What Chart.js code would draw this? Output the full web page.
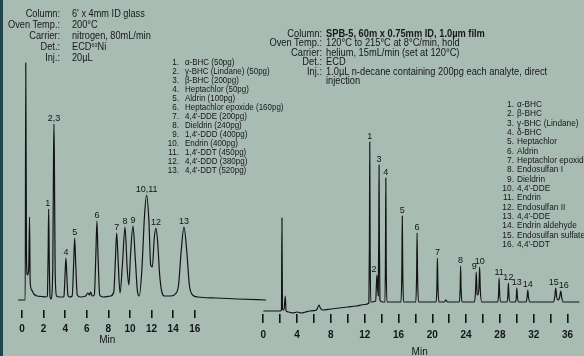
<!DOCTYPE html>
<html>
<head>
<meta charset="utf-8">
<script src="https://cdn.jsdelivr.net/npm/chart.js"></script>
<style>
  body { margin: 0; background: #a8bcb4; }
  #wrap { position: relative; width: 584px; height: 356px; overflow: hidden; background: #a8bcb4;
    font-family: "Liberation Sans Narrow", "Arial Narrow", "Liberation Sans", sans-serif; color: #171717; }
  #edge { position: absolute; left: 0; top: 0; width: 3px; height: 356px; background: #1f4650; }
  canvas { position: absolute; left: 0; top: 0; }
  .lab { position: absolute; text-align: right; white-space: nowrap; transform-origin: right top; }
  .val { position: absolute; white-space: nowrap; transform-origin: left top; }
  sup { font-size: 6px; vertical-align: 3px; line-height: 0; }
</style>
</head>
<body>
<div id="wrap">
  <div id="edge"></div>
  <canvas id="left" width="584" height="356"></canvas>
  <canvas id="right" width="584" height="356"></canvas>

  <div style="position:absolute;left:0;top:8px;font-size:10px;line-height:11px;">
    <div class="lab" style="left:0;width:60px;top:0;transform:scaleX(0.92)">Column:<br>Oven Temp.:<br>Carrier:<br>Det.:<br>Inj.:</div>
    <div class="val" style="left:72px;top:0;transform:scaleX(0.92)">6' x 4mm ID glass<br>200°C<br>nitrogen, 80mL/min<br>ECD<sup>63</sup>Ni<br>20µL</div>
  </div>

  <div style="position:absolute;left:0;top:57px;font-size:9.5px;line-height:9px;">
    <div class="lab" style="left:140px;width:39px;top:0;transform:scaleX(0.85)">1.<br>2.<br>3.<br>4.<br>5.<br>6.<br>7.<br>8.<br>9.<br>10.<br>11.<br>12.<br>13.</div>
    <div class="val" style="left:185px;top:0;transform:scaleX(0.84)">α-BHC (50pg)<br>γ-BHC (Lindane) (50pg)<br>β-BHC (200pg)<br>Heptachlor (50pg)<br>Aldrin (100pg)<br>Heptachlor epoxide (160pg)<br>4,4'-DDE (200pg)<br>Dieldrin (240pg)<br>1,4'-DDD (400pg)<br>Endrin (400pg)<br>1,4'-DDT (450pg)<br>4,4'-DDD (380pg)<br>4,4'-DDT (520pg)</div>
  </div>

  <div style="position:absolute;left:0;top:29px;font-size:10px;line-height:9.4px;">
    <div class="lab" style="left:250px;width:72px;top:0;transform:scaleX(0.93)">Column:<br>Oven Temp.:<br>Carrier:<br>Det.:<br>Inj.:</div>
    <div class="val" style="left:326px;top:0;transform:scaleX(0.93)"><b>SPB-5, 60m x 0.75mm ID, 1.0µm film</b><br>120°C to 215°C at 8°C/min, hold<br>helium, 15mL/min (set at 120°C)<br>ECD<br>1.0µL n-decane containing 200pg each analyte, direct<br>injection</div>
  </div>

  <div style="position:absolute;left:0;top:99px;font-size:9.5px;line-height:9.35px;">
    <div class="lab" style="left:480px;width:34px;top:0;transform:scaleX(0.88)">1.<br>2.<br>3.<br>4.<br>5.<br>6.<br>7.<br>8.<br>9.<br>10.<br>11.<br>12.<br>13.<br>14.<br>15.<br>16.</div>
    <div class="val" style="left:517px;top:0;transform:scaleX(0.87)">α-BHC<br>β-BHC<br>γ-BHC (Lindane)<br>δ-BHC<br>Heptachlor<br>Aldrin<br>Heptachlor epoxide<br>Endosulfan I<br>Dieldrin<br>4,4'-DDE<br>Endrin<br>Endosulfan II<br>4,4'-DDE<br>Endrin aldehyde<br>Endosulfan sulfate<br>4,4'-DDT</div>
  </div>
</div>

<script>
// packed column run (min, detector height)
const leftTime = [-0.37, 0.3, 0.35, 0.42, 0.5, 0.62, 0.7, 0.76, 0.9, 1.1, 1.4, 1.8, 2.2,
  2.35, 2.42, 2.47, 2.52, 2.6, 2.68,
  2.85, 2.92, 2.96, 3.0, 3.07, 3.2, 3.5, 3.85,
  3.9, 4.0, 4.07, 4.14, 4.25, 4.4,
  4.65, 4.78, 4.88, 4.98, 5.12, 5.4,
  5.9, 6.1, 6.25, 6.35, 6.5,
  6.7, 6.84, 6.94, 7.04, 7.2, 7.5, 8.2,
  8.5, 8.65, 8.77, 8.9, 9.08,
  9.3, 9.54, 9.75, 9.9,
  10.05, 10.28, 10.5, 10.7, 10.86,
  11.1, 11.35, 11.54, 11.75, 11.92, 12.07,
  12.25, 12.4, 12.55, 12.75, 12.95, 13.2, 13.8, 14.2,
  14.5, 14.75, 15.0, 15.25, 15.5, 15.8, 16.3, 18, 20, 22.6];
const leftSignal = [0, 0, 237, 40, 25, 30, 83, 18, 10, 6, 4, 3.5, 3,
  4, 45, 91, 45, 3, 1,
  30, 140, 176, 140, 30, 4, 3, 3,
  5, 28, 42, 28, 5, 3,
  4, 35, 62, 35, 5, 3,
  4, 7, 5, 8, 4,
  5, 45, 79, 45, 5, 3, 4,
  8, 40, 67, 40, 7,
  35, 73, 30, 15,
  45, 74, 40, 8, 4,
  30, 85, 105, 80, 35, 33,
  62, 72, 60, 25, 8, 4, 4, 6,
  15, 50, 73, 50, 15, 5, 3, 2, 1, 0];
const leftPeakLabels = ['1', '2,3', '4', '5', '6', '7', '8', '9', '10,11', '12', '13'];
const leftPeakTime = [2.47, 2.96, 4.07, 4.88, 6.94, 8.77, 9.54, 10.28, 11.54, 12.4, 15.0];
const leftPeakHeight = [91, 176, 42, 62, 79, 67, 73, 74, 105, 72, 73];
const leftTicks = [0, 2, 4, 6, 8, 10, 12, 14, 16];

// capillary run
const rightTime = [0, 2.0, 2.15, 2.21, 2.27, 2.45, 2.6, 2.7, 3.0, 3.5, 4, 4.5, 5, 5.5, 6.3, 6.6, 6.75, 7, 8, 9, 10, 11, 12, 12.5,
  12.56, 12.6, 12.64, 12.72, 13.3,
  13.4, 13.45, 13.5, 13.6, 13.66, 13.7, 13.74, 13.8, 14.1,
  14.4, 14.46, 14.5, 14.54, 14.62,
  16.3, 16.4, 16.45, 16.5, 16.6,
  18.05, 18.15, 18.2, 18.25, 18.36,
  20.45, 20.55, 20.6, 20.66, 20.78,
  21.4, 21.6, 21.8,
  23.2, 23.3, 23.35, 23.4, 23.52,
  25.0, 25.12, 25.2, 25.3, 25.4, 25.52, 25.6, 25.68, 25.85,
  27.75, 27.85, 27.9, 27.96, 28.1,
  28.85, 28.95, 29.0, 29.06, 29.2,
  29.85, 29.95, 30.0, 30.06, 30.2,
  31.1, 31.22, 31.3, 31.38, 31.55,
  34.35, 34.5, 34.6, 34.72, 34.85, 35.05, 35.2, 35.32, 35.5, 37.4];
const rightSignal = [-9, -9, -8, 84, -7, -8, 6, -9, -10, -11, -10, -11, -10, -9, -8, -3, -6, -8, -7, -6, -5, -4, -2.5, -1,
  60, 160, 60, 0, 1,
  20, 27, 18, 6, 60, 137, 60, 2, 0,
  0, 50, 124, 50, 0,
  0, 35, 86, 35, 0,
  0, 30, 69, 30, 0,
  0, 18, 44, 18, 0,
  0, 2, 0,
  0, 15, 36, 15, 0,
  0, 12, 30, 8, 7, 15, 35, 12, 0,
  0, 10, 24, 10, 0,
  0, 8, 19, 8, 0,
  0, 6, 14, 6, 0,
  0, 5, 12, 5, 0,
  0, 6, 14, 5, 2, 4, 11, 4, 0, 0];
const rightPeakLabels = ['1', '2', '3', '4', '5', '6', '7', '8', '9', '10', '11', '12', '13', '14', '15', '16'];
const rightPeakTime = [12.6, 13.45, 13.7, 14.5, 16.45, 18.2, 20.6, 23.35, 25.2, 25.6, 27.9, 29.0, 30.0, 31.3, 34.6, 35.2];
const rightPeakHeight = [160, 27, 137, 124, 86, 69, 44, 36, 30, 35, 24, 19, 14, 12, 14, 11];
const rightTicks = [0, 2, 4, 6, 8, 10, 12, 14, 16, 18, 20, 22, 24, 26, 28, 30, 32, 34, 36];

const ink = '#141414';
const narrow = '"Liberation Sans Narrow", "Arial Narrow", "Liberation Sans", sans-serif';

// peak numbers above each apex, plus the "Min" caption under the time axis
const peakLabels = {
  id: 'peakLabels',
  afterDatasetsDraw(chart, args, opts) {
    const { ctx, scales: { x, y } } = chart;
    ctx.save();
    ctx.font = '9px ' + narrow;
    ctx.fillStyle = ink;
    ctx.textAlign = 'center';
    ctx.textBaseline = 'bottom';
    opts.labels.forEach((txt, i) => {
      const px = x.getPixelForValue(opts.times[i]) + (opts.shift[txt] || 0);
      const py = y.getPixelForValue(opts.heights[i]) - 1;
      ctx.fillText(txt, px, py);
    });
    ctx.font = '10px ' + narrow;
    ctx.textBaseline = 'middle';
    ctx.fillText('Min', x.getPixelForValue(opts.captionAt), opts.captionY);
    ctx.restore();
  }
};

function drawRun(id, time, signal, cfg) {
  new Chart(document.getElementById(id), {
    type: 'line',
    data: {
      datasets: [{
        data: time.map((t, i) => ({ x: t, y: signal[i] })),
        borderColor: ink,
        borderWidth: 1.2,
        pointRadius: 0,
        cubicInterpolationMode: 'monotone',
        fill: false
      }]
    },
    options: {
      responsive: false,
      animation: false,
      devicePixelRatio: 1,
      layout: { padding: cfg.padding },
      plugins: {
        legend: { display: false },
        tooltip: { enabled: false },
        peakLabels: cfg.peaks
      },
      scales: {
        x: {
          type: 'linear',
          min: cfg.xmin,
          max: cfg.xmax,
          afterBuildTicks: (s) => { s.ticks = cfg.ticks.map(v => ({ value: v })); },
          afterFit: (s) => { s.height = cfg.axisHeight; },
          border: { display: false },
          grid: { drawOnChartArea: false, drawTicks: true, tickLength: cfg.tickLength, color: ink, lineWidth: 1.6 },
          ticks: {
            padding: cfg.tickPad, color: ink, autoSkip: false, maxRotation: 0,
            font: { family: narrow, size: 10, weight: 'bold' },
            callback: cfg.label
          }
        },
        y: { display: false, min: cfg.ymin, max: cfg.ymax }
      }
    },
    plugins: [peakLabels]
  });
}

drawRun('left', leftTime, leftSignal, {
  padding: { left: 15.5, right: 315.8, top: 50, bottom: 0 },
  axisHeight: 46,
  xmin: -0.6, xmax: 22.8, ymin: -10, ymax: 250,
  ticks: leftTicks, tickLength: 8, tickPad: 5,
  label: (v) => String(v),
  peaks: { labels: leftPeakLabels, times: leftPeakTime, heights: leftPeakHeight, shift: { '1': -1 },
    captionAt: 7.9, captionY: 340 }
});

drawRun('right', rightTime, rightSignal, {
  padding: { left: 258.2, right: 0.4, top: 130, bottom: 0 },
  axisHeight: 42,
  xmin: -0.6, xmax: 37.9, ymin: -12, ymax: 172,
  ticks: rightTicks, tickLength: 9, tickPad: 6,
  label: (v) => (v % 4 === 0 ? String(v) : ''),
  peaks: { labels: rightPeakLabels, times: rightPeakTime, heights: rightPeakHeight, shift: { '2': -3, '9': -2, '15': -2, '16': 3 },
    captionAt: 18.5, captionY: 352 }
});
</script>
</body>
</html>
